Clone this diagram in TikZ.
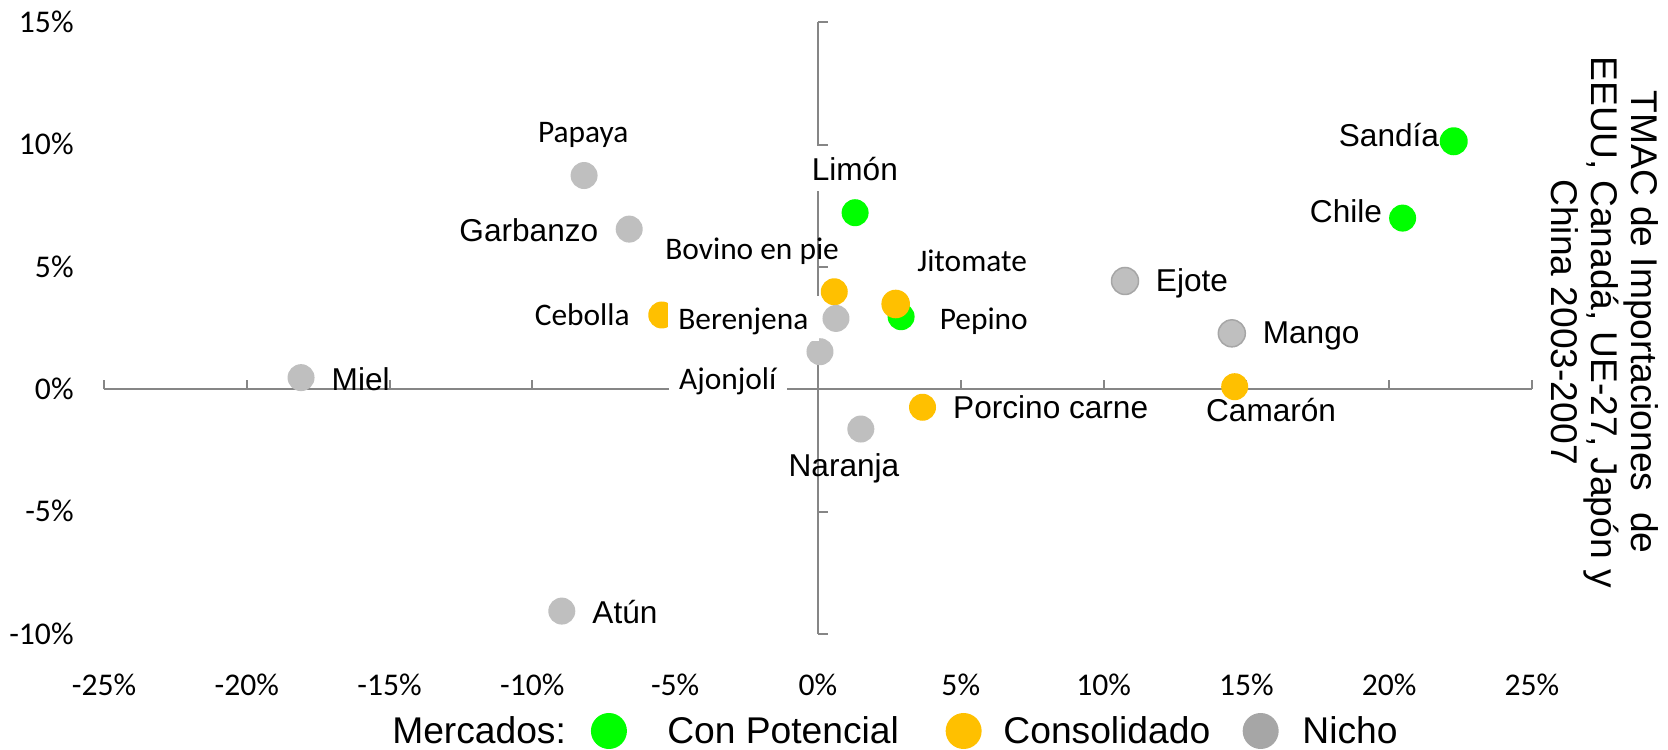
\documentclass[tikz,border=0pt]{standalone}
\usepackage{fontspec}
\setmainfont{Liberation Sans}
\newfontfamily\calfont{Carlito}
\definecolor{axisgray}{RGB}{134,134,134}
\definecolor{cpot}{RGB}{0,255,0}
\definecolor{ccons}{RGB}{255,192,0}
\definecolor{cnicho}{RGB}{191,191,191}
\definecolor{cnichoedge}{RGB}{166,166,166}
\definecolor{legnicho}{RGB}{166,166,166}
\tikzset{
  axisline/.style={draw=axisgray, line width=1pt},
  mk/.style={circle, inner sep=0pt, minimum size=13.5pt},
  potdot/.style={mk, fill=cpot},
  consdot/.style={mk, fill=ccons},
  nichodot/.style={mk, fill=cnicho},
  nichoedged/.style={mk, fill=cnicho, draw=cnichoedge, line width=0.75pt},
  arl/.style={font=\fontsize{15.8pt}{18pt}\selectfont, inner sep=0pt},
  cal/.style={font=\calfont\fontsize{15.7pt}{18pt}\selectfont, inner sep=0pt},
  whitebox/.style={fill=white, inner xsep=5.25pt, inner ysep=5.5pt},
  ticklab/.style={font=\calfont\fontsize{15.8pt}{18pt}\selectfont, inner sep=0pt},
  big/.style={font=\fontsize{18.6pt}{21pt}\selectfont, inner sep=0pt},
  legdot/.style={circle, inner sep=0pt, minimum size=18pt},
}
\begin{document}
\begin{tikzpicture}[x=14.28pt, y=12.235pt]
\useasboundingbox (-28.641,-14.696) rectangle (29.762,15.913);
% axes
\draw[axisline] (-25,0) -- (25,0);
\draw[axisline] (0,15) -- (0,-10);
\foreach \v in {-25,-20,...,25} \draw[axisline] (\v,0) -- (\v,0.37);
\foreach \v in {15,10,...,-10} \draw[axisline] (0,\v) -- (0.35,\v);
% tick labels
\foreach \v [count=\i] in {15,10,5,0,-5,-10}
  \node[ticklab, anchor=base east] (yl\i) at (-26.05,\v-0.41) {\v\%};
\foreach \v [count=\i] in {-25,-20,-15,-10,-5,0,5,10,15,20,25}
  \node[ticklab, anchor=base] (xl\i) at (\v,-12.49) {\v\%};
% markers: Con Potencial
\node[potdot] (limon) at (1.3,7.22) {};
\node[potdot] (pepino) at (2.91,2.97) {};
\node[potdot] (chile) at (20.47,7.0) {};
\node[potdot, minimum size=14pt] (sandia) at (22.26,10.14) {};
% markers: Consolidado
\node[consdot] (cebolla) at (-5.47,3.04) {};
\node[consdot] (bovino) at (0.57,3.99) {};
\node[consdot, minimum size=14.3pt] (jitomate) at (2.72,3.49) {};
\node[consdot] (porcino) at (3.66,-0.73) {};
\node[consdot] (camaron) at (14.59,0.11) {};
% markers: Nicho
\node[nichodot] (miel) at (-18.1,0.48) {};
\node[nichodot] (papaya) at (-8.19,8.74) {};
\node[nichodot] (garbanzo) at (-6.61,6.55) {};
\node[nichodot] (berenjena) at (0.63,2.9) {};
\node[nichodot] (ajonjoli) at (0.07,1.54) {};
\node[nichodot] (naranja) at (1.5,-1.62) {};
\node[nichodot] (atun) at (-8.97,-9.06) {};
\node[nichoedged] (ejote) at (10.75,4.43) {};
\node[nichoedged] (mango) at (14.49,2.29) {};
% labels
\node[cal, anchor=base] (lpapaya) at (-8.22,10.1) {Papaya};
\node[arl, anchor=base east] (lgarbanzo) at (-7.68,6.04) {Garbanzo};
\node[arl, anchor=base west] (lmiel) at (-17.04,-0.04) {Miel};
\node[cal, anchor=base east] (lcebolla) at (-6.58,2.62) {Cebolla};
\node[cal, anchor=base] (lbovino) at (-2.305,5.32) {Bovino en pie};
\node[cal, whitebox, inner ysep=3pt, text height=14pt, anchor=base] (lberenjena) at (-2.615,2.43) {Berenjena};
\node[cal, whitebox, anchor=base] (lajonjoli) at (-3.16,-0.02) {Ajonjolí};
\node[arl, whitebox, anchor=base] (llimon) at (1.29,8.55) {Limón};
\node[cal, anchor=base] (ljitomate) at (5.395,4.81) {Jitomate};
\node[cal, anchor=base] (lpepino) at (5.805,2.43) {Pepino};
\node[arl, anchor=base west] (lporcino) at (4.72,-1.18) {Porcino carne};
\node[arl, anchor=base] (lnaranja) at (0.91,-3.57) {Naranja};
\node[arl, anchor=base west] (latun) at (-7.91,-9.56) {Atún};
\node[arl, anchor=base west] (lejote) at (11.82,3.99) {Ejote};
\node[arl, anchor=base west] (lmango) at (15.56,1.88) {Mango};
\node[arl, anchor=base] (lcamaron) at (15.865,-1.32) {Camarón};
\node[arl, anchor=base east] (lchile) at (19.76,6.81) {Chile};
\node[arl, anchor=base east] (lsandia) at (21.76,9.92) {Sandía};
% axis title
\node[big, rotate=-90, anchor=base] (t1) at (28.50,2.75) {TMAC de Importaciones\ \ de};
\node[big, rotate=-90, anchor=base] (t2) at (27.10,2.75) {EEUU, Canadá, UE-27, Japón y};
\node[big, rotate=-90, anchor=base] (t3) at (25.70,2.75) {China 2003-2007};
% legend
\node[big, anchor=base west] (lgt) at (-14.92,-14.49) {Mercados:};
\node[legdot, fill=cpot] (lgpot) at (-7.32,-13.96) {};
\node[big, anchor=base west] (lgpott) at (-5.29,-14.49) {Con Potencial};
\node[legdot, fill=ccons] (lgcons) at (5.1,-13.96) {};
\node[big, anchor=base west] (lgconst) at (6.48,-14.49) {Consolidado};
\node[legdot, fill=legnicho] (lgnicho) at (15.5,-13.96) {};
\node[big, anchor=base west] (lgnichot) at (16.95,-14.49) {Nicho};
\end{tikzpicture}
\end{document}
